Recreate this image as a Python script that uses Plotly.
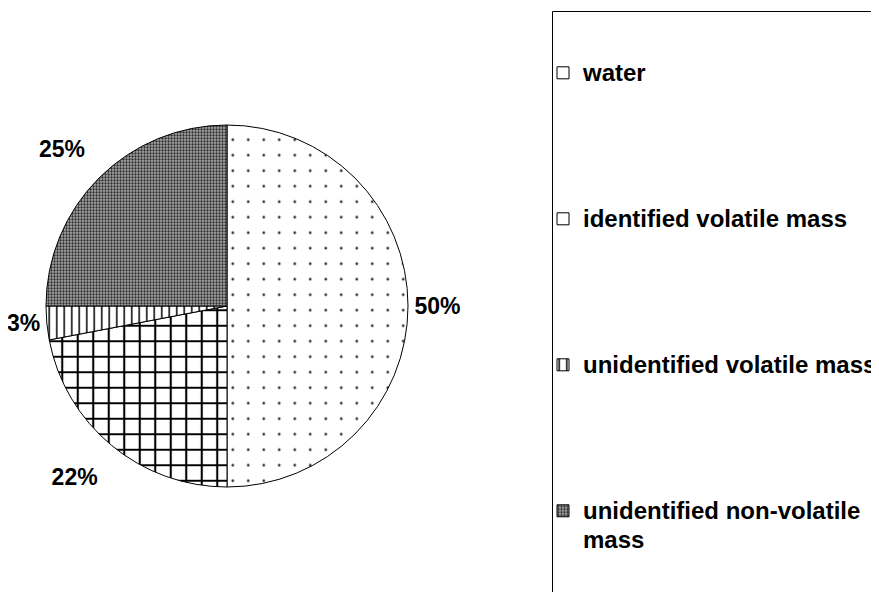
import plotly.graph_objects as go

categories = ["water", "identified volatile mass", "unidentified volatile mass", "unidentified non-volatile mass"]
values = [50, 22, 3, 25]
legend_lines = [["water"], ["identified volatile mass"], ["unidentified volatile mass"], ["unidentified non-volatile", "mass"]]
label_templates = ["%{percent:.0%}", "\u00a0<br>%{percent:.0%}", "%{percent:.0%}", "%{percent:.0%}<br>\u00a0"]

pattern_shapes = [".", "+", "|", "."]
pattern_sizes = [15.5, 15.5, 7.5, 3]
pattern_solidity = [0.025, 0.25, 0.2, 0.45]
pattern_fg = ["#333333", "#000000", "#000000", "#2a2a2a"]
pattern_bg = ["#ffffff", "#ffffff", "#ffffff", "#a8a8a8"]

FONT = "Liberation Sans, Arial, sans-serif"
NB = "\u00a0"

# page body has an 8px margin: work in reference pixels, shift by 8
OFF = 8
W, H = 879 - OFF, 592 - OFF


def px(x):
    return (x - OFF) / W


def py(y):
    return 1 - (y - OFF) / H


def legend_label(lines, last):
    parts = [f'<span style="font-size:24px">{t}</span>' for t in lines]
    if not last:
        parts += [NB] * 4
    return "<br>".join(parts)


labels = [legend_label(l, i == len(legend_lines) - 1) for i, l in enumerate(legend_lines)]

fig = go.Figure(
    go.Pie(
        labels=labels,
        values=values,
        sort=False,
        direction="clockwise",
        rotation=0,
        texttemplate=label_templates,
        textposition="outside",
        automargin=False,
        outsidetextfont=dict(family=FONT, size=23, color="black", weight="bold"),
        marker=dict(
            colors=pattern_bg,
            line=dict(color="black", width=1),
            pattern=dict(
                shape=pattern_shapes,
                size=pattern_sizes,
                solidity=pattern_solidity,
                fgcolor=pattern_fg,
                bgcolor=pattern_bg,
                fillmode="replace",
            ),
        ),
        domain=dict(x=[px(46), px(408)], y=[py(487), py(125)]),
        hovertext=categories,
        hoverinfo="text+percent",
    )
)

fig.update_layout(
    width=W,
    height=H,
    margin=dict(l=0, r=0, t=0, b=0, autoexpand=False),
    paper_bgcolor="white",
    plot_bgcolor="white",
    font=dict(family=FONT, color="black"),
    showlegend=True,
    legend=dict(
        xref="container",
        yref="container",
        x=px(543),
        xanchor="left",
        y=py(52),
        yanchor="top",
        valign="top",
        maxheight=700,
        font=dict(family=FONT, size=22, color="black", weight="bold"),
        bgcolor="rgba(0,0,0,0)",
        borderwidth=0,
        traceorder="normal",
    ),
    shapes=[
        dict(
            type="rect", xref="paper", yref="paper",
            x0=px(552.5), x1=1.05, y0=-0.05, y1=py(11.5),
            line=dict(color="black", width=1), fillcolor="rgba(0,0,0,0)", layer="below",
        )
    ],
)

fig.write_html("out.html")
